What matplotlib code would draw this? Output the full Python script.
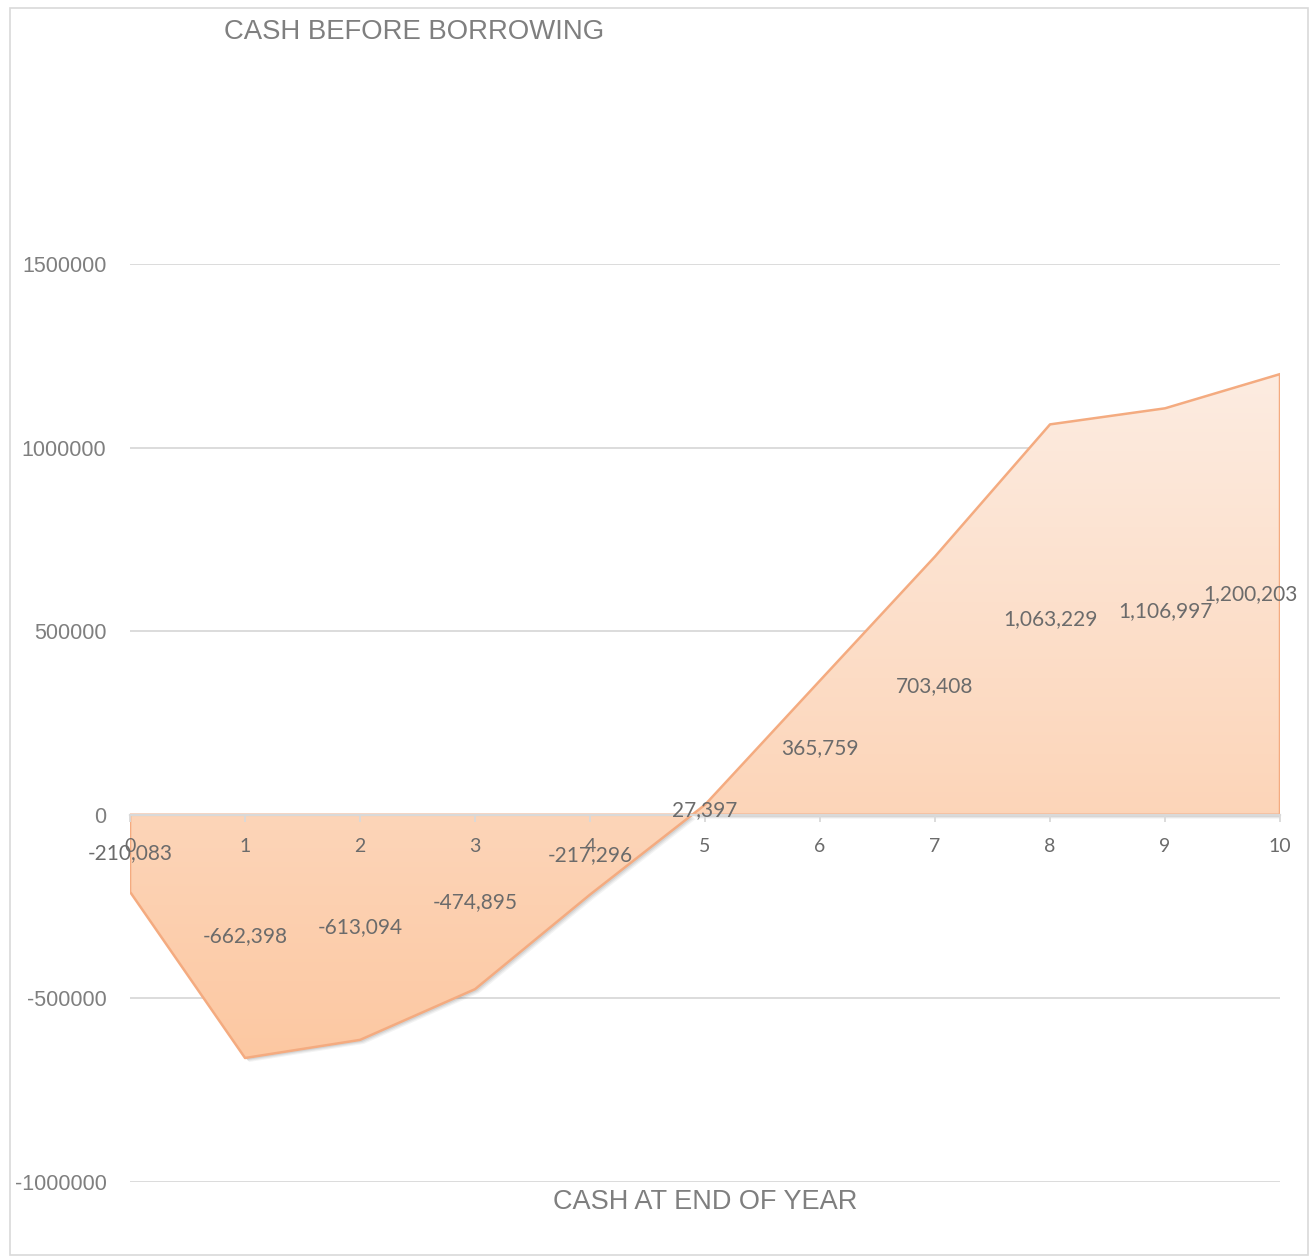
import numpy as np
import matplotlib.pyplot as plt
from matplotlib.patches import Polygon, Rectangle
from matplotlib.colors import LinearSegmentedColormap
import matplotlib.transforms as mtransforms

# cash position at the end of each year
years = [0, 1, 2, 3, 4, 5, 6, 7, 8, 9, 10]
cash = [-210083, -662398, -613094, -474895, -217296, 27397,
        365759, 703408, 1063229, 1106997, 1200203]
y_ticks = [-1000000, -500000, 0, 500000, 1000000, 1500000]

title = "CASH BEFORE BORROWING"
x_title = "CASH AT END OF YEAR"

text_grey = "#7f7f7f"
label_grey = "#6b6b6b"
grid_grey = "#d9d9d9"
edge_col = "#f4ab80"

fig = plt.figure(figsize=(13.15, 12.59), dpi=100)
ax = fig.add_axes([0.0989, 0.0612, 0.8745, 0.7291])

# chart frame
fig.patches.append(Rectangle((10 / 1315, 4 / 1259), 1298 / 1315, 1247 / 1259,
                             transform=fig.transFigure, fill=False,
                             edgecolor="#d9d9d9", linewidth=1.2))

# area polygon (closed down to the zero baseline)
verts = [(years[0], 0)] + list(zip(years, cash)) + [(years[-1], 0)]

# soft drop shadow
for dx, dy, a in [(4, -4, 0.06), (3, -3, 0.08), (2, -2, 0.10)]:
    off = mtransforms.ScaledTranslation(dx / 100, dy / 100, fig.dpi_scale_trans)
    sh = Polygon(verts, closed=True, facecolor="#404040", edgecolor="none",
                 alpha=a, transform=ax.transData + off, zorder=1)
    ax.add_patch(sh)

# gradient fill, light at the top and deeper peach at the bottom
cmap = LinearSegmentedColormap.from_list("peach", ["#fcc8a2", "#fdece1"])
grad = np.linspace(0, 1, 256).reshape(-1, 1)
poly = Polygon(verts, closed=True, facecolor="none", edgecolor="none")
ax.add_patch(poly)
img = ax.imshow(grad, cmap=cmap, origin="lower", aspect="auto",
                extent=[years[0], years[-1], min(cash), max(cash)],
                zorder=2, interpolation="bicubic")
img.set_clip_path(poly)

outline = Polygon(verts, closed=True, facecolor="none", edgecolor=edge_col,
                  linewidth=1.8, zorder=3, joinstyle="round")
ax.add_patch(outline)

ax.set_xlim(years[0], years[-1])
ax.set_ylim(y_ticks[0], y_ticks[-1])

# gridlines
for t in y_ticks:
    if t != 0:
        ax.axhline(t, color=grid_grey, linewidth=1.3, zorder=0)

for s in ["top", "right", "left"]:
    ax.spines[s].set_visible(False)
ax.spines["bottom"].set_position(("data", 0))
ax.spines["bottom"].set_color(grid_grey)
ax.spines["bottom"].set_linewidth(1.6)
ax.spines["bottom"].set_zorder(4)
ax.xaxis.set_zorder(4.5)

ax.set_xticks(years)
ax.set_xticklabels([str(y) for y in years], fontsize=14, color=label_grey,
                   family=["Lato", "DejaVu Sans"])
ax.tick_params(axis="x", direction="out", length=5, width=1.3,
               color=grid_grey, pad=12)

ax.set_yticks(y_ticks)
ax.set_yticklabels([str(t) for t in y_ticks], fontsize=15.5, color=text_grey,
                   family=["Liberation Sans", "DejaVu Sans"])
ax.tick_params(axis="y", length=0, pad=17)

# value labels sit halfway between the baseline and the point
for x, v in zip(years, cash):
    txt = f"{v:,}"
    if x == years[-1]:
        ax.annotate(txt, (x, v / 2), xytext=(13, 0), textcoords="offset points",
                    ha="right", va="center", fontsize=15, color=label_grey,
                    family=["Lato", "DejaVu Sans"], zorder=5, annotation_clip=False)
    else:
        ax.text(x, v / 2, txt, ha="center", va="center", fontsize=15,
                color=label_grey, family=["Lato", "DejaVu Sans"], zorder=5,
                clip_on=False)

fig.text(414 / 1315, 1 - 32 / 1259, title, ha="center", va="center",
         fontsize=19.8, color=text_grey, family=["Liberation Sans", "DejaVu Sans"])
fig.text(705 / 1315, 1 - 1202 / 1259, x_title, ha="center", va="center",
         fontsize=19.5, color=text_grey, family=["Liberation Sans", "DejaVu Sans"])

fig.savefig("out.png", dpi=100)
